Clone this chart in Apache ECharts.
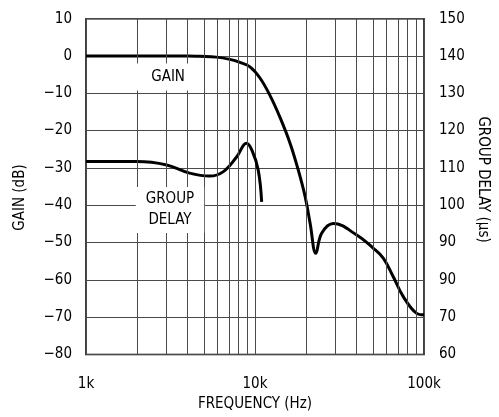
<!DOCTYPE html>
<html>
<head>
<meta charset="utf-8">
<script src="https://cdn.jsdelivr.net/npm/echarts@6/dist/echarts.min.js"></script>
<style>
  html, body { margin: 0; padding: 0; background: #fff; }
  #chart { width: 499px; height: 417px; }
</style>
</head>
<body>
<div id="chart"></div>
<script>
// gain response (left axis, dB)
const gainFreq = [1000, 2000, 3000, 4000, 4700, 5900, 7100, 8150, 9340, 10700, 12300, 14100, 16100, 17960, 19800, 21200, 22900, 24800, 29100, 40000, 50000, 57400, 65800, 75400, 90500, 100000];
const gainDb   = [0, 0, 0, 0, -0.1, -0.3, -0.9, -1.7, -2.9, -5.9, -10.7, -16.6, -23.3, -30.3, -37.7, -44.9, -52.9, -47.5, -44.9, -48.0, -51.5, -54.2, -59.2, -64.5, -69.0, -69.4];

// group delay (right axis, us)
const delayFreq = [1000, 2000, 3000, 4100, 5400, 6500, 7800, 8900, 9600, 10450, 10950];
const delayUs   = [111.7, 111.7, 110.8, 108.6, 107.8, 109.0, 113.0, 116.6, 114.7, 109.4, 100.9];

// tick labels
const freqTicks  = { 1000: '1k', 10000: '10k', 100000: '100k' };
const gainTicks  = ['\u221280', '\u221270', '\u221260', '\u221250', '\u221240', '\u221230', '\u221220', '\u221210', '0', '10'];
const delayTicks = ['60', '70', '90', '90', '100', '110', '120', '130', '140', '150'];

// minor log grid lines
const minorGrid = [2000, 3000, 4000, 5000, 6000, 7000, 8000, 9000, 20000, 30000, 40000, 50000, 60000, 70000, 80000, 90000];

const font = "'Liberation Sans Narrow', 'DejaVu Sans Condensed', sans-serif";
const gridColor = '#4a4a4a';

const chart = echarts.init(document.getElementById('chart'));

const option = {
  backgroundColor: '#fff',
  animation: false,
  textStyle: { fontFamily: font, color: '#000' },
  grid: {
    left: 86, right: 75, top: 18.7, bottom: 62.6,
    show: true,
    borderColor: '#000',
    borderWidth: 1.5,
    backgroundColor: 'transparent'
  },
  xAxis: {
    type: 'log',
    logBase: 10,
    min: 1000,
    max: 100000,
    name: 'FREQUENCY (Hz)',
    nameLocation: 'middle',
    nameGap: 40,
    nameTextStyle: { fontFamily: font, fontSize: 15, color: '#000' },
    axisLine: { show: false },
    axisTick: { show: false },
    axisLabel: {
      margin: 22,
      fontFamily: font, fontSize: 15, color: '#000',
      formatter: v => freqTicks[Math.round(v)] || ''
    },
    splitLine: { show: true, lineStyle: { color: gridColor, width: 1 } }
  },
  yAxis: [
    {
      type: 'value',
      min: -80,
      max: 10,
      interval: 10,
      name: 'GAIN (dB)',
      nameLocation: 'middle',
      nameGap: 58,
      nameTextStyle: { fontFamily: font, fontSize: 15, color: '#000', padding: [0, 22, 0, 0] },
      axisLine: { show: false },
      axisTick: { show: false },
      axisLabel: {
        margin: 14,
        fontFamily: font, fontSize: 15, color: '#000',
        formatter: v => gainTicks[Math.round((v + 80) / 10)]
      },
      splitLine: { show: true, lineStyle: { color: gridColor, width: 1 } }
    },
    {
      type: 'value',
      min: 60,
      max: 150,
      interval: 10,
      name: 'GROUP DELAY (\u00b5s)',
      nameLocation: 'middle',
      nameGap: 50,
      nameRotate: -90,
      nameTextStyle: { fontFamily: font, fontSize: 15, color: '#000', padding: [0, 14, 0, 0] },
      axisLine: { show: false },
      axisTick: { show: false },
      axisLabel: {
        margin: 15,
        fontFamily: font, fontSize: 15, color: '#000',
        formatter: v => delayTicks[Math.round((v - 60) / 10)]
      },
      splitLine: { show: false }
    }
  ],
  series: [
    {
      name: 'grid',
      type: 'line',
      data: [],
      z: 1,
      silent: true,
      markLine: {
        silent: true,
        symbol: 'none',
        animation: false,
        label: { show: false },
        lineStyle: { color: gridColor, width: 1, type: 'solid' },
        data: minorGrid.map(v => ({ xAxis: v }))
      }
    },
    {
      name: 'GAIN',
      type: 'line',
      yAxisIndex: 0,
      data: gainFreq.map((f, i) => [f, gainDb[i]]),
      smooth: 0.4,
      showSymbol: false,
      z: 3,
      lineStyle: { color: '#000', width: 3 },
      markPoint: {
        symbol: 'rect',
        symbolSize: 0,
        silent: true,
        label: {
          show: true,
          position: 'inside',
          formatter: 'GAIN',
          fontFamily: font, fontSize: 15, color: '#000',
          backgroundColor: '#fff',
          padding: [6, 16]
        },
        data: [{ coord: [3060, -5.6] }]
      }
    },
    {
      name: 'GROUP DELAY',
      type: 'line',
      yAxisIndex: 1,
      data: delayFreq.map((f, i) => [f, delayUs[i]]),
      smooth: 0.4,
      showSymbol: false,
      z: 3,
      lineStyle: { color: '#000', width: 3 },
      markPoint: {
        symbol: 'rect',
        symbolSize: 0,
        silent: true,
        label: {
          show: true,
          position: 'inside',
          formatter: 'GROUP\nDELAY',
          fontFamily: font, fontSize: 15, lineHeight: 21, color: '#000',
          align: 'center',
          backgroundColor: '#fff',
          padding: [2, 10]
        },
        data: [{ coord: [3140, 98.7] }]
      }
    }
  ]
};

chart.setOption(option);
window.addEventListener('resize', () => chart.resize());
</script>
</body>
</html>
